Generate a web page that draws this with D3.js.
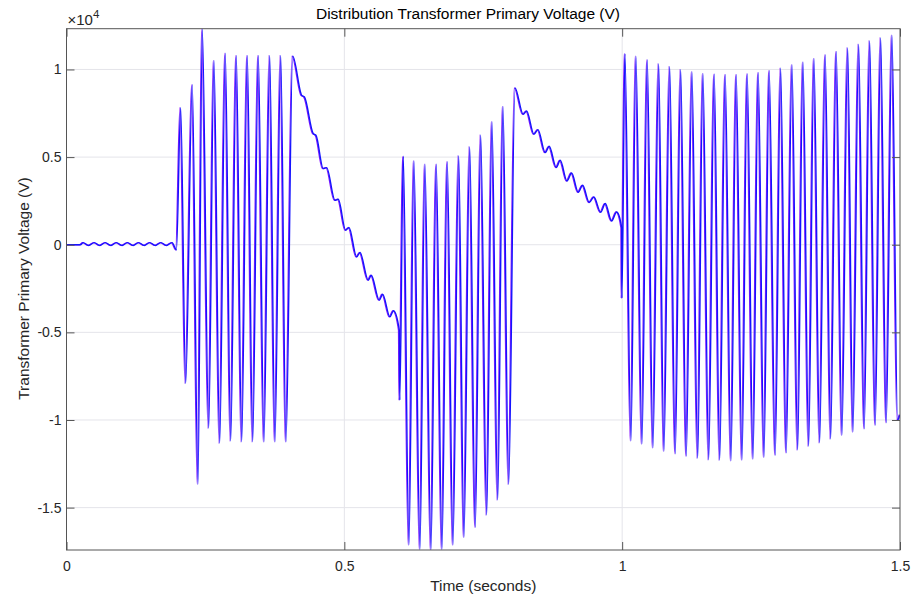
<!DOCTYPE html>
<html>
<head>
<meta charset="utf-8">
<script src="https://cdn.jsdelivr.net/npm/d3@7"></script>
<style>
    body { margin: 0; background: #fff; }
    svg  { display: block; font-family: "Liberation Sans", Arial, sans-serif; }
</style>
</head>
<body>
<svg id="chart"></svg>
<script>
// [time (s), voltage (V)]: peaks, troughs and ripple points
const preFault = [
    [0, 0], [0.025, 0], [0.030, 120], [0.040, -40], [0.050, 120], [0.060, -40],
    [0.070, 120], [0.080, -40], [0.090, 120], [0.100, -40], [0.110, 120], [0.120, -40],
    [0.130, 120], [0.140, -40], [0.150, 120], [0.160, -40], [0.170, 120], [0.180, -40],
    [0.190, 120], [0.1979, -300]
];
const fault1 = [
    [0.2055, 7822], [0.2145, -7913], [0.2264, 9133], [0.2366, -13672], [0.2444, 12326],
    [0.2559, -10479], [0.2654, 10519], [0.2757, -11334], [0.2858, 10935], [0.2955, -11203],
    [0.3056, 10804], [0.3153, -11243], [0.3254, 10804], [0.3351, -11243], [0.3452, 10804],
    [0.3554, -11243], [0.3657, 10804], [0.3752, -11243], [0.3855, 10804], [0.3950, -11243],
    [0.4071, 10763]
];
const decay1 = [
    [0.4233, 8523], [0.4283, 8426], [0.4441, 6339], [0.4490, 6243], [0.4621, 4344],
    [0.4682, 4400], [0.4832, 2537], [0.4891, 2594], [0.5024, 827], [0.5084, 981],
    [0.5222, -696], [0.5282, -445], [0.5431, -2024], [0.5485, -1739], [0.5629, -3164],
    [0.5690, -2822], [0.5821, -4116], [0.5884, -3763], [0.5989, -4874], [0.5998, -8866]
];
const fault2 = [
    [0.6061, 5046], [0.6163, -17133], [0.6253, 4778], [0.6361, -17380], [0.6451, 4589],
    [0.6559, -17418], [0.6655, 4589], [0.6757, -17380], [0.6853, 4743], [0.6955, -17133],
    [0.7058, 5086], [0.7153, -16694], [0.7256, 5598], [0.7357, -16124], [0.7454, 6260],
    [0.7562, -15422], [0.7657, 7024], [0.7760, -14567], [0.7855, 7896], [0.7958, -13672],
    [0.8071, 8950]
];
const decay2 = [
    [0.8220, 7440], [0.8281, 7628], [0.8413, 6300], [0.8485, 6568], [0.8616, 5256],
    [0.8688, 5615], [0.8814, 4401], [0.8886, 4817], [0.9007, 3637], [0.9091, 4093],
    [0.9210, 2993], [0.9289, 3392], [0.9408, 2406], [0.9492, 2725], [0.9613, 1853],
    [0.9696, 2349], [0.9811, 1357], [0.9901, 1870], [0.9991, 981], [0.9996, -3050]
];
const recovery = [
    [1.0050, 10901], [1.0158, -11186], [1.0248, 10764], [1.0356, -11374], [1.0452, 10559],
    [1.0554, -11585], [1.0657, 10331], [1.0752, -11790], [1.0855, 10177], [1.0956, -11927],
    [1.1053, 10006], [1.1154, -12075], [1.1256, 9875], [1.1359, -12189], [1.1454, 9778],
    [1.1557, -12269], [1.1657, 9738], [1.1755, -12303], [1.1855, 9721], [1.1958, -12326],
    [1.2053, 9721], [1.2156, -12286], [1.2251, 9761], [1.2354, -12229], [1.2449, 9835],
    [1.2552, -12132], [1.2647, 9949], [1.2755, -12018], [1.2852, 10080], [1.2953, -11870],
    [1.3056, 10274], [1.3158, -11716], [1.3254, 10422], [1.3356, -11505], [1.3452, 10633],
    [1.3554, -11300], [1.3655, 10844], [1.3752, -11089], [1.3853, 11032], [1.3955, -10878],
    [1.4058, 11243], [1.4153, -10690], [1.4256, 11448], [1.4357, -10502], [1.4454, 11642],
    [1.4555, -10308], [1.4652, 11813], [1.4753, -10160], [1.4855, 11962], [1.4957, -10006],
    [1.5000, -9700]
];

const xTicks      = [0, 0.5, 1, 1.5];
const xTickLabels = ['0', '0.5', '1', '1.5'];
const yTicks      = [-15000, -10000, -5000, 0, 5000, 10000];
const yTickLabels = ['-1.5', '-1', '-0.5', '0', '0.5', '1'];

const W = 923, H = 598;
const m = { top: 28.7, right: 23, bottom: 48, left: 66.5 };
const iw = W - m.left - m.right;
const ih = H - m.top - m.bottom;

const series = [].concat(preFault, fault1, decay1, fault2, decay2, recovery);

const svg = d3.select('#chart').attr('width', W).attr('height', H);

const x = d3.scaleLinear().domain([0, 1.5]).range([0, iw]);
const y = d3.scaleLinear().domain(d3.extent(series, d => d[1])).range([ih, 0]);

const g = svg.append('g').attr('transform', `translate(${m.left},${m.top})`);

svg.append('defs').append('clipPath').attr('id', 'plot-clip')
    .append('rect').attr('width', iw).attr('height', ih);

// grid
g.append('g').selectAll('line').data(xTicks.slice(1, -1)).join('line')
    .attr('x1', d => x(d)).attr('x2', d => x(d))
    .attr('y1', 0).attr('y2', ih)
    .attr('stroke', '#e4e4ea').attr('stroke-width', 1);
g.append('g').selectAll('line').data(yTicks).join('line')
    .attr('x1', 0).attr('x2', iw)
    .attr('y1', d => y(d)).attr('y2', d => y(d))
    .attr('stroke', '#e4e4ea').attr('stroke-width', 1);

// waveform: purple trace sits just behind the blue one
const line = d3.line()
    .x(d => x(d[0]))
    .y(d => y(d[1]))
    .curve(d3.curveMonotoneX);

const plot = g.append('g').attr('clip-path', 'url(#plot-clip)');
plot.append('path')
    .datum(series)
    .attr('d', line)
    .attr('transform', 'translate(-0.8,0)')
    .attr('fill', 'none')
    .attr('stroke', '#8a1cff')
    .attr('stroke-width', 1.3);
plot.append('path')
    .datum(series)
    .attr('d', line)
    .attr('fill', 'none')
    .attr('stroke', '#1414ff')
    .attr('stroke-width', 1.4);

// axes (ticks inside, box on)
const tick = 8;
const axisColor = '#555';

const styleAxis = sel => {
    sel.select('.domain').remove();
    sel.selectAll('.tick line').attr('stroke', axisColor);
    sel.selectAll('.tick text')
        .attr('fill', '#262626')
        .attr('font-size', 14)
        .attr('font-family', '"Liberation Sans", Arial, sans-serif');
};

g.append('g').attr('transform', `translate(0,${ih})`)
    .call(d3.axisBottom(x).tickValues(xTicks).tickSizeInner(-tick).tickSizeOuter(0)
        .tickPadding(11).tickFormat((d, i) => xTickLabels[i]))
    .call(styleAxis);
g.append('g')
    .call(d3.axisTop(x).tickValues(xTicks).tickSizeInner(-tick).tickSizeOuter(0).tickFormat(''))
    .call(styleAxis);
g.append('g')
    .call(d3.axisLeft(y).tickValues(yTicks).tickSizeInner(-tick).tickSizeOuter(0)
        .tickPadding(5).tickFormat((d, i) => yTickLabels[i]))
    .call(styleAxis);
g.append('g').attr('transform', `translate(${iw},0)`)
    .call(d3.axisRight(y).tickValues(yTicks).tickSizeInner(-tick).tickSizeOuter(0).tickFormat(''))
    .call(styleAxis);

g.append('rect')
    .attr('width', iw).attr('height', ih)
    .attr('fill', 'none').attr('stroke', axisColor).attr('stroke-width', 1);

// exponent marker
const expo = svg.append('text')
    .attr('x', m.left + 1).attr('y', 25)
    .attr('font-size', 15).attr('fill', '#262626');
expo.append('tspan').text('\u00d710');
expo.append('tspan').attr('dy', -7).attr('font-size', 11.5).text('4');

// title and labels
svg.append('text')
    .attr('x', 468).attr('y', 19)
    .attr('text-anchor', 'middle')
    .attr('font-size', 15.5).attr('fill', '#000')
    .text('Distribution Transformer Primary Voltage (V)');

svg.append('text')
    .attr('x', m.left + iw / 2).attr('y', 591)
    .attr('text-anchor', 'middle')
    .attr('font-size', 15.5).attr('fill', '#262626')
    .text('Time (seconds)');

svg.append('text')
    .attr('transform', `translate(29,${m.top + y(-2500)})rotate(-90)`)
    .attr('text-anchor', 'middle')
    .attr('font-size', 15.5).attr('fill', '#262626')
    .text('Transformer Primary Voltage (V)');
</script>
</body>
</html>
